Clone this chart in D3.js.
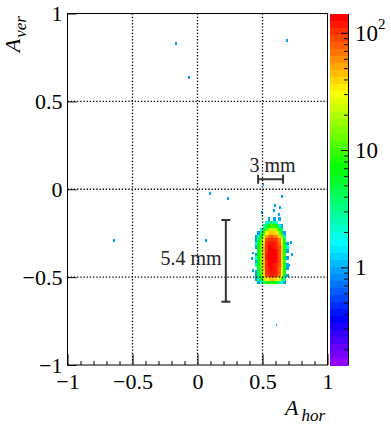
<!DOCTYPE html>
<html>
<head>
<meta charset="utf-8">
<script src="https://cdn.jsdelivr.net/npm/d3@7"></script>
</head>
<body style="margin:0;background:#fff">
<script>
// core of the beam spot, 0.02 x 0.02 bins (lower x edge, upper y edge)
const coreX = [0.44, 0.46, 0.48, 0.50, 0.52, 0.54, 0.56, 0.58, 0.60, 0.62, 0.64, 0.66, 0.68];
const coreY = [-0.16, -0.18, -0.20, -0.22, -0.24, -0.26, -0.28, -0.30, -0.32, -0.34,
  -0.36, -0.38, -0.40, -0.42, -0.44, -0.46, -0.48, -0.50, -0.52];
const coreCounts = [
  [0, 0, 0, 0, 0, 1, 0, 1, 0, 1, 0, 0, 0],
  [0, 0, 0, 0, 2, 3, 4, 3, 2, 0, 0, 0, 0],
  [0, 0, 0, 2, 5, 8, 10, 9, 6, 3, 1, 0, 0],
  [0, 0, 2, 5, 12, 18, 22, 20, 15, 8, 3, 0, 0],
  [0, 1, 4, 10, 28, 38, 45, 40, 32, 18, 6, 1, 0],
  [1, 3, 7, 20, 55, 70, 75, 70, 60, 38, 14, 3, 0],
  [1, 5, 11, 32, 85, 100, 105, 100, 90, 65, 26, 5, 0],
  [2, 6, 13, 40, 100, 120, 125, 115, 105, 80, 35, 7, 1],
  [1, 7, 14, 45, 105, 130, 135, 125, 110, 85, 38, 9, 2],
  [0, 6, 15, 45, 110, 135, 140, 130, 115, 85, 40, 8, 1],
  [1, 7, 15, 48, 115, 140, 140, 135, 120, 90, 42, 9, 0],
  [2, 7, 16, 48, 115, 135, 140, 130, 115, 90, 40, 8, 1],
  [1, 6, 15, 46, 110, 135, 140, 130, 115, 85, 40, 9, 0],
  [2, 7, 14, 45, 110, 130, 135, 125, 110, 85, 38, 7, 1],
  [0, 6, 14, 44, 105, 125, 130, 120, 110, 80, 36, 8, 1],
  [1, 5, 13, 42, 100, 120, 125, 120, 105, 80, 34, 7, 0],
  [1, 5, 12, 38, 90, 110, 115, 110, 95, 70, 30, 6, 1],
  [1, 3, 8, 18, 32, 42, 45, 42, 35, 26, 12, 3, 0],
  [0, 1, 2, 4, 7, 9, 9, 8, 6, 4, 2, 1, 0]
];
// isolated single hits: [lower x edge, lower y edge, count]
const strayHits = [
  [0.68, 0.84, 1], [-0.17, 0.82, 1], [-0.07, 0.63, 1], [-0.65, -0.30, 1],
  [0.09, -0.03, 1], [0.23, -0.06, 1], [0.06, -0.30, 1], [0.50, 0.02, 1],
  [0.64, -0.05, 1], [0.72, -0.38, 1], [0.41, -0.40, 1], [0.60, -0.78, 1],
  [0.59, -0.10, 1], [0.63, -0.11, 1], [0.58, -0.13, 1], [0.62, -0.15, 1],
  [0.49, -0.14, 1], [0.42, -0.37, 1], [0.71, -0.31, 1], [0.69, -0.50, 1],
  [0.42, -0.47, 1], [0.70, -0.44, 1]
];
const xTicks = [-1, -0.5, 0, 0.5, 1];
const yTicks = [-1, -0.5, 0, 0.5, 1];
const gridLines = [-0.5, 0, 0.5];
const zRange = [0.147, 146];
const zTicks = [1, 10, 100];
const zTickLabels = [['1', ''], ['10', ''], ['10', '2']];
// scale bars, in axis units
const hBar = { x0: 0.466, x1: 0.658, y: 0.057, label: '3 mm', lx: 0.578, ly: 0.10 };
const vBar = { x: 0.218, y0: -0.64, y1: -0.175, label: '5.4 mm', lx: 0.185, ly: -0.431 };

const width = 391;
const height = 425;
const frame = { left: 67.5, right: 327.5, top: 13.5, bottom: 365 };
const bar = { left: 330, right: 348 };
const serif = '"Liberation Serif"';

const svg = d3.select('body')
  .append('svg')
  .attr('width', width)
  .attr('height', height);

const x = d3.scaleLinear().domain([-1, 1]).range([frame.left, frame.right]);
const y = d3.scaleLinear().domain([-1, 1]).range([frame.bottom, frame.top]);
const z = d3.scaleLog().domain(zRange).range([frame.bottom, frame.top]);
const zFrac = d3.scaleLog().domain(zRange).range([0, 1]).clamp(true);

// ROOT pretty palette, violet -> red
const nColors = 50;
const palette = d3.range(nColors).map((i) => d3.hsl(280 - (i + 1) * 280 / nColors, 1, 0.5).formatHex());
const colorOf = (v) => palette[Math.min(nColors - 1, Math.floor(zFrac(v) * nColors + 0.01))];

// histogram cells
const cells = [];
coreCounts.forEach((row, r) => row.forEach((v, c) => {
  if (v > 0) cells.push({ x0: coreX[c], x1: coreX[c] + 0.02, y0: coreY[r] - 0.02, y1: coreY[r], v });
}));
strayHits.forEach(([sx, sy, v]) => cells.push({ x0: sx, x1: sx + 0.015, y0: sy, y1: sy + 0.015, v }));

svg.append('g')
  .attr('shape-rendering', 'crispEdges')
  .selectAll('rect')
  .data(cells)
  .join('rect')
  .attr('x', (d) => x(d.x0))
  .attr('y', (d) => y(d.y1))
  .attr('width', (d) => x(d.x1) - x(d.x0))
  .attr('height', (d) => y(d.y0) - y(d.y1))
  .attr('fill', (d) => colorOf(d.v));

// dotted grid on top of the histogram
const grid = svg.append('g')
  .attr('stroke', '#000')
  .attr('stroke-width', 1.3)
  .attr('stroke-dasharray', '1.3 1.9');
grid.selectAll('.gx').data(gridLines).join('line')
  .attr('x1', (d) => x(d)).attr('x2', (d) => x(d))
  .attr('y1', frame.top).attr('y2', frame.bottom);
grid.selectAll('.gy').data(gridLines).join('line')
  .attr('y1', (d) => y(d)).attr('y2', (d) => y(d))
  .attr('x1', frame.left).attr('x2', frame.right);

// axes
const fmt = d3.format('~g');
const xAxis = svg.append('g')
  .attr('transform', `translate(0,${frame.bottom})`)
  .call(d3.axisBottom(x).tickValues(xTicks).tickFormat(fmt).tickSizeInner(-11).tickSizeOuter(0).tickPadding(8.5));
const minorX = d3.range(-9, 10).filter((i) => i % 5 !== 0).map((i) => i / 10);
svg.append('g')
  .attr('transform', `translate(0,${frame.bottom})`)
  .call(d3.axisBottom(x).tickValues(minorX).tickFormat('').tickSizeInner(-4).tickSizeOuter(0))
  .call((g) => g.select('.domain').remove());

const yAxis = svg.append('g')
  .attr('transform', `translate(${frame.left},0)`)
  .call(d3.axisLeft(y).tickValues(yTicks).tickFormat(fmt).tickSizeInner(-9).tickSizeOuter(0).tickPadding(5));

[xAxis, yAxis].forEach((g) => {
  g.attr('font-family', null).attr('font-size', null);
  g.select('.domain').remove();
  g.selectAll('text').attr('font-size', 22).attr('fill', '#000');
});

// frame
svg.append('rect')
  .attr('x', frame.left).attr('y', frame.top)
  .attr('width', frame.right - frame.left).attr('height', frame.bottom - frame.top)
  .attr('fill', 'none').attr('stroke', '#000').attr('stroke-width', 1);

// axis titles
const xTitle = svg.append('text')
  .attr('x', 325).attr('y', 415)
  .attr('text-anchor', 'end')
  .attr('font-style', 'italic');
xTitle.append('tspan').attr('font-size', 22).text('A');
xTitle.append('tspan').attr('font-size', 17).attr('dx', 3).attr('dy', 6).text('hor');

const yTitle = svg.append('text')
  .attr('transform', 'translate(20,16) rotate(-90)')
  .attr('text-anchor', 'end')
  .attr('font-style', 'italic');
yTitle.append('tspan').attr('font-size', 22).text('A');
yTitle.append('tspan').attr('font-size', 17).attr('dx', 1).attr('dy', 6).text('ver');

// colour bar
const bandEdges = d3.range(nColors + 1).map((i) => zFrac.invert(i / nColors));
svg.append('g')
  .attr('shape-rendering', 'crispEdges')
  .selectAll('rect')
  .data(d3.range(nColors))
  .join('rect')
  .attr('x', bar.left)
  .attr('width', bar.right - bar.left)
  .attr('y', (i) => z(bandEdges[i + 1]))
  .attr('height', (i) => z(bandEdges[i]) - z(bandEdges[i + 1]) + 0.5)
  .attr('fill', (i) => palette[i]);

const minorZ = [2, 3, 4, 5, 6, 7, 8, 9].flatMap((m) => [m / 10, m, m * 10]).filter((v) => v >= zRange[0] && v <= zRange[1]);
svg.append('g')
  .attr('transform', `translate(${bar.right},0)`)
  .call(d3.axisRight(z).tickValues(minorZ).tickFormat('').tickSizeInner(-4).tickSizeOuter(0))
  .call((g) => g.select('.domain').remove());
svg.append('g')
  .attr('transform', `translate(${bar.right},0)`)
  .call(d3.axisRight(z).tickValues(zTicks).tickFormat('').tickSizeInner(-7).tickSizeOuter(0))
  .call((g) => g.select('.domain').attr('stroke', '#000'));
svg.selectAll('.tick line').attr('stroke', '#000');

const zLabels = svg.append('g')
  .selectAll('text')
  .data(zTicks)
  .join('text')
  .attr('x', bar.right + 7)
  .attr('y', (d) => z(d))
  .attr('dy', '0.34em')
  .attr('font-size', 23);
zLabels.append('tspan').text((d, i) => zTickLabels[i][0]);
zLabels.append('tspan')
  .attr('font-size', 15)
  .attr('dy', '-0.75em')
  .text((d, i) => zTickLabels[i][1]);

// scale bars
const ann = svg.append('g')
  .attr('stroke', '#333')
  .attr('stroke-width', 2)
  .attr('fill', 'none');
ann.append('line')
  .attr('x1', x(hBar.x0)).attr('x2', x(hBar.x1))
  .attr('y1', y(hBar.y)).attr('y2', y(hBar.y));
[hBar.x0, hBar.x1].forEach((v) => ann.append('line')
  .attr('x1', x(v)).attr('x2', x(v))
  .attr('y1', y(hBar.y) - 4.5).attr('y2', y(hBar.y) + 4.5));
ann.append('line')
  .attr('x1', x(vBar.x)).attr('x2', x(vBar.x))
  .attr('y1', y(vBar.y0)).attr('y2', y(vBar.y1));
[vBar.y0, vBar.y1].forEach((v) => ann.append('line')
  .attr('y1', y(v)).attr('y2', y(v))
  .attr('x1', x(vBar.x) - 4.5).attr('x2', x(vBar.x) + 4.5));

svg.append('text')
  .attr('x', x(hBar.lx)).attr('y', y(hBar.ly))
  .attr('text-anchor', 'middle')
  .attr('font-size', 20)
  .attr('fill', '#222')
  .text(hBar.label);
svg.append('text')
  .attr('x', x(vBar.lx)).attr('y', y(vBar.ly))
  .attr('text-anchor', 'end')
  .attr('font-size', 20)
  .attr('fill', '#222')
  .text(vBar.label);

svg.selectAll('text').style('font-family', serif);
</script>
</body>
</html>
